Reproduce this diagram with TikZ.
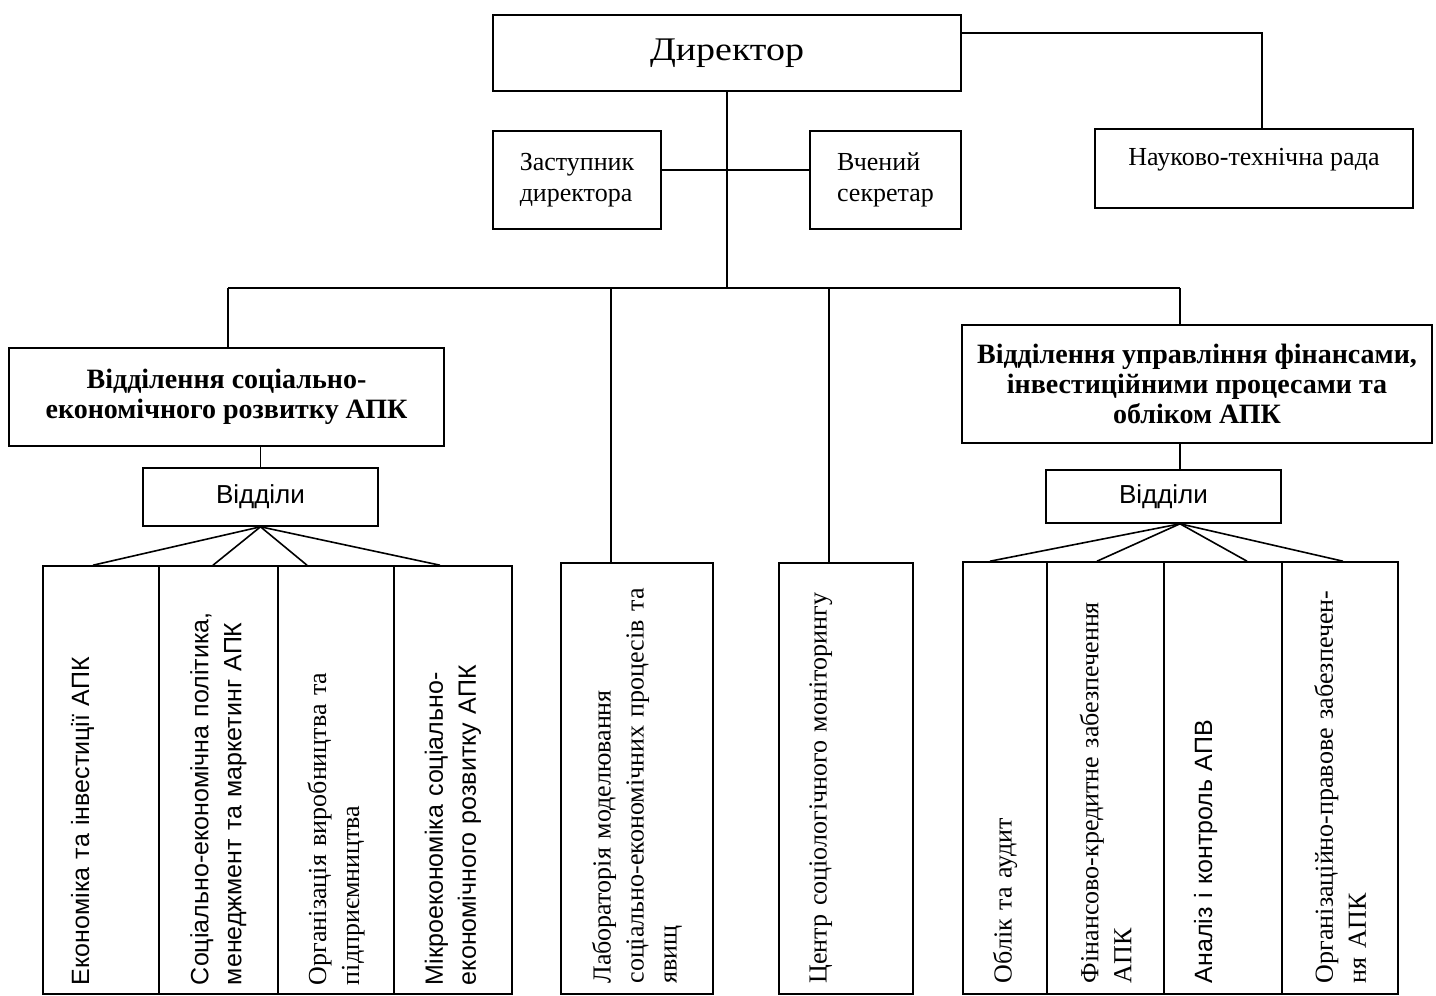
\documentclass[tikz,border=0pt]{standalone}
\usepackage{fontspec}
\setmainfont{Liberation Serif}
\setsansfont{Liberation Sans}
\newfontfamily\dirfont[FakeStretch=1.15]{Liberation Serif}
\tikzset{every node/.style={font=\fontsize{13}{15.5}\selectfont}}
\tikzset{box/.style={shape=rectangle, draw, inner sep=1mm}}
\tikzset{dept/.style={box, font=\bfseries\fontsize{14}{15}\selectfont}}
\tikzset{vid/.style={box, font=\sffamily\fontsize{13}{15}\selectfont}}
\tikzset{col/.style={box, rotate=90, align=left, text width=205pt,
    font=\fontsize{13}{16.5}\selectfont}}
\tikzset{colsf/.style={col, font=\sffamily\fontsize{12.5}{16.5}\selectfont}}

\begin{document}
\begin{tikzpicture}[x=0.5pt, y=-0.5pt, align=center, line width=0.8pt]
    \useasboundingbox (0,0) rectangle (1436,996);

    % top level
    \node(dir)[box, minimum width=234pt, minimum height=38pt,
        font=\dirfont\fontsize{16.5}{18}\selectfont] at (727,53) {Директор};
    \node(ntr)[box, minimum width=159pt, inner ysep=0pt, text height=18pt,
        text depth=21.5pt] at (1254,168.5) {Науково-технічна рада};
    \node(zast)[box, minimum width=84pt, minimum height=49pt, align=left] at (577,180) {Заступник\\директора};
    \node(vch)[box, minimum width=75.5pt, minimum height=49pt, align=left] at (885.5,180) {Вчений\\секретар};

    \coordinate (busL) at (228,288);
    \coordinate (busR) at (1180,288);
    \coordinate (busLab) at (611,288);
    \coordinate (busCtr) at (829,288);

    % divisions
    \node(divL)[dept, minimum width=217.5pt, minimum height=49pt] at (226.5,397)
        {Відділення соціально-\\економічного розвитку АПК};
    \node(divR)[dept, minimum width=235pt, minimum height=59pt] at (1197,384)
        {Відділення управління фінансами,\\інвестиційними процесами та\\обліком АПК};
    \node(vidL)[vid, minimum width=117.5pt, minimum height=29pt] at (260.5,497) {Відділи};
    \node(vidR)[vid, minimum width=117.5pt, minimum height=26.5pt] at (1163.5,496.5) {Відділи};

    % columns, left division
    \node(c1)[colsf, minimum width=214pt, minimum height=58pt] at (101,780) {Економіка та інвестиції АПК\\[4.5pt]\mbox{}};
    \node(c2)[colsf, minimum width=214pt, minimum height=59.5pt] at (218.5,780) {Соціально-економічна політика,\\менеджмент та маркетинг АПК};
    \node(c3)[col, minimum width=214pt, minimum height=58pt] at (336,780) {Організація виробництва та\\підприємництва};
    \node(c4)[colsf, minimum width=214pt, minimum height=59pt] at (453,780) {Мікроекономіка соціально-\\економічного розвитку АПК};

    % laboratory and centre
    \node(lab)[col, minimum width=215.5pt, minimum height=76pt] at (637,778.5) {Лабораторія моделювання\\соціально-економічних процесів та\\явищ};
    \node(ctr)[col, minimum width=215.5pt, minimum height=67pt] at (846,778.5) {Центр соціологічного моніторингу\\[11.5pt]\mbox{}};

    % columns, right division
    \node(r1)[col, minimum width=216pt, minimum height=42pt] at (1005,778) {Облік та аудит};
    \node(r2)[col, minimum width=216pt, minimum height=58.5pt] at (1105.5,778) {Фінансово-кредитне забезпечення\\АПК};
    \node(r3)[colsf, minimum width=216pt, minimum height=59pt] at (1223,778) {Аналіз і контроль АПВ\\[3.5pt]\mbox{}};
    \node(r4)[col, minimum width=216pt, minimum height=58pt] at (1340,778) {Організаційно-правове забезпечен-\\ня АПК};

    \draw (dir.south) -- (dir.south |- busL);
    \draw ([yshift=10pt]dir.east) -| ([xshift=4pt]ntr.north);
    \draw ([yshift=5pt]zast.east) -- ([yshift=5pt]vch.west);
    \draw (busL) -- (busR);
    \draw (busL) -- (busL |- divL.north);
    \draw (busR) -- (busR |- divR.north);
    \draw (busLab) -- (busLab |- lab.east);
    \draw (busCtr) -- (busCtr |- ctr.east);

    \draw (vidL.north) -- (vidL.north |- divL.south);
    \draw (busR |- divR.south) -- (busR |- vidR.north);

    \draw (vidL.south) -- ([xshift=-4pt]c1.east);
    \draw (vidL.south) -- ([xshift=-2.75pt]c2.east);
    \draw (vidL.south) -- ([xshift=-14.5pt]c3.east);
    \draw (vidL.south) -- ([xshift=-6.5pt]c4.east);

    \draw (busR |- vidR.south) -- ([xshift=-7.5pt]r1.east);
    \draw (busR |- vidR.south) -- ([xshift=-4.25pt]r2.east);
    \draw (busR |- vidR.south) -- ([xshift=12pt]r3.east);
    \draw (busR |- vidR.south) -- ([xshift=1.5pt]r4.east);

\end{tikzpicture}
\end{document}
